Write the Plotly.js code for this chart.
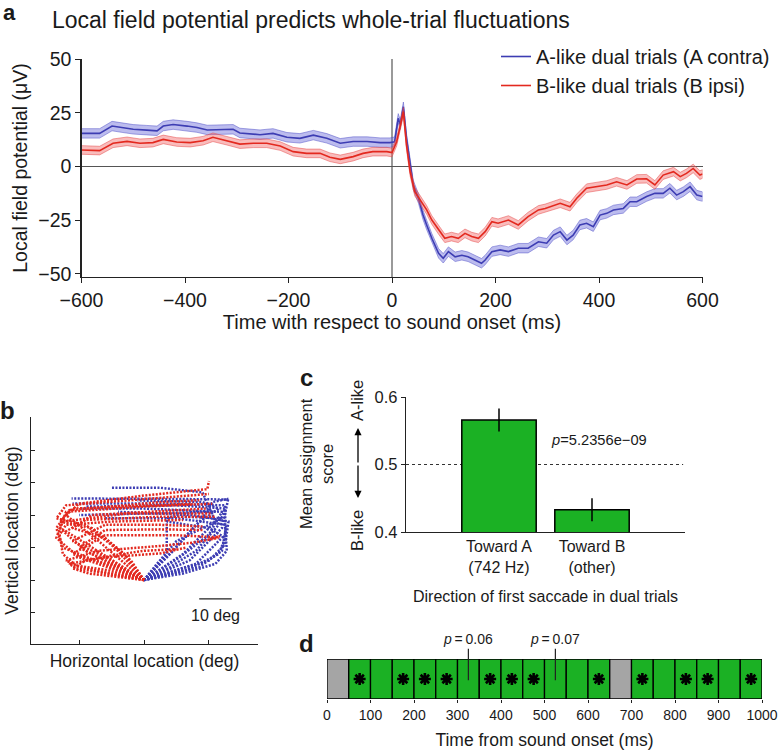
<!DOCTYPE html>
<html>
<head>
<meta charset="utf-8">
<script src="https://cdn.plot.ly/plotly-3.0.1.min.js"></script>
<style>body{margin:0;background:#fff}#fig{width:778px;height:751px}</style>
</head>
<body>
<div id="fig"></div>
<script>
// ---- panel a: LFP traces (uV) ----
var tA = [-600,-565,-541,-520,-500,-474,-454,-442,-423,-396,-377,-357,-327,-307,-294,-274,-255,-230,-203,-178,-152,-126,-100,-75,-48,-23,-4,5,12,16,22,28,35,41,51,60,67,77,90,99,109,122,135,147,160,173,180,193,209,225,244,263,283,299,312,325,338,350,363,376,389,402,415,428,447,460,473,492,508,524,537,550,563,576,589,600];
var lfpA = [15.4,15.4,18.8,18.0,17.3,16.9,16.6,18.8,19.5,18.8,18.1,17.0,17.3,17.3,15.6,15.1,14.8,15.4,13.6,13.1,14.6,13.1,10.8,11.6,11.6,11.1,11.1,11.5,22.4,19.5,27.8,13.1,0.7,-8.6,-14.8,-22.6,-27.2,-33.4,-40.4,-42.7,-39.6,-42.0,-41.3,-42.0,-43.5,-45.0,-43.5,-39.6,-38.8,-39.6,-38.0,-38.0,-35.0,-35.7,-31.9,-30.3,-34.2,-31.9,-27.2,-26.4,-28.0,-22.6,-21.8,-20.2,-19.5,-16.4,-16.4,-14.0,-12.5,-12.5,-10.1,-13.3,-11.7,-9.4,-13.3,-14.0];
var tB = [-600,-565,-539,-512,-487,-462,-442,-416,-390,-365,-346,-319,-294,-268,-242,-216,-191,-165,-139,-120,-100,-75,-56,-37,-10,0,9,15,22,28,35,44,57,67,77,90,102,115,128,141,154,167,180,193,205,225,244,263,283,296,305,325,344,357,376,396,415,434,454,473,492,508,524,544,557,569,582,595,600];
var lfpB = [7.7,7.4,10.8,11.7,10.8,11.1,12.6,11.4,11.1,12.0,13.6,12.0,10.4,10.8,10.8,9.5,6.9,6.1,6.1,4.3,3.3,4.6,6.1,6.9,6.9,6.5,11.5,17.8,25.5,10.0,-2.4,-11.7,-16.4,-20.2,-24.9,-29.5,-33.4,-32.6,-33.4,-31.1,-32.6,-33.4,-30.3,-25.7,-26.4,-24.9,-27.2,-23.3,-20.2,-19.5,-18.7,-17.1,-18.7,-14.8,-10.1,-9.4,-8.6,-7.1,-8.6,-5.8,-5.7,-8.6,-4.0,-2.4,-4.7,-3.2,-0.9,-4.0,-3.5];
var semA = 2.2;
var semB = 2.0;
var nameA = 'A-like dual trials (A contra)';
var nameB = 'B-like dual trials (B ipsi)';

// ---- panel b: eye trajectories (deg), one list per trial ----
var redTrajX = [
  [0,-14,-24,-20,0,19.5,20],
  [0,-18,-26,-24,0,21],
  [0,-20,-27,-25,-5,20.8],
  [0,-16,-24,-18,5,22],
  [0,-12,-22,-12,5,18],
  [0,-10,-20,-12,5,18],
  [0,-8,-22,-12,10,22,23.4,20],
  [0,-20,-24,-14,5,15,23],
  [0,-21,-23,-12,5,13],
  [0,-6,-16,-26,-22,-10,15],
  [0,-11,-21,-25,-26,-24,-10,12],
  [0,-15,-25,-27,-23,5,17],
  [0,-4,-12,-22,-16,10,19],
  [0,-17,-22,-18,-10,0,10],
  [0,-9,-18,-27,-24,-5,20]
];
var redTrajY = [
  [0,12,20,23.5,26,28,30.5],
  [0,9,16,21,22.6,23.5],
  [0,7,13,18,20.5,20.5],
  [0,10,15,18.5,19.5,19.5],
  [0,7,12,17,17,16.5],
  [0,5,10,15.4,15.6,15.4],
  [0,4,8,13.8,13.8,13.2,13.5,12.5],
  [0,4,6,9,10.5,11.5,13],
  [0,3.6,5,7,8.2,10],
  [0,8,16,18,22,22.5,23.5],
  [0,3,4.5,8,14,17,18,18.5],
  [0,6,10,16,21.5,24,24.6],
  [0,6,13,16,20,21.5,22],
  [0,2,3.6,6,7.5,9,9.5],
  [0,10,17,19,23,24.5,26.5]
];
var blueTrajX = [
  [0,12,22,18,5,-10],
  [0,14,24,25.9,5,-22.3],
  [0,16,25,25,0,-22],
  [0,11,20,24,0,-20],
  [0,7,7,15,22,0,-20],
  [0,17,24,25.4,10,-12],
  [0,13,23,25,20,7],
  [0,9,18,21,26],
  [0,6,16,23,18,-2],
  [0,10,20,25,26,15,-8],
  [0,8,16,23,25,10,-18],
  [0,4,10,20,24,12],
  [0,12,22,25.5,25]
];
var blueTrajY = [
  [0,8,18,27,28.4,28.4],
  [0,6,16,24.8,25,25.1],
  [0,5,14,23,23.6,23.6],
  [0,7,14,21,22,22],
  [0,8,19,21,21,20.5,20],
  [0,4,9,17,19,19],
  [0,3,8,13,16,18],
  [0,9,19,24,25],
  [0,6,17,22,24,24.5],
  [0,3,6,11,18,20,21],
  [0,4,9,17,22,23,22.6],
  [0,5,12,17,19,19.5],
  [0,2,5,9,16]
];

// ---- panel c: mean assignment score ----
var dirLabels = ['Toward A<br>(742 Hz)', 'Toward B<br>(other)'];
var meanScore = [0.566, 0.433];
var semScore = [0.017, 0.017];

// ---- panel d: 50 ms bins ----
var binStart = [0,50,100,150,200,250,300,350,400,450,500,550,600,650,700,750,800,850,900,950];
var binStatus = ['excl','sig','ns','sig','sig','sig','ns','sig','sig','sig','ns','ns','sig','excl','sig','ns','sig','sig','ns','sig'];
var binWidth = 50;

var colBlue = '#3d3db3';
var colRed = '#e3291f';
var colGreen = '#1bb124';
var W = 778, H = 751;
function px(x){ return x / W; }
function py(y){ return 1 - y / H; }

function band(t, m, s, fill, edge){
  var up = m.map(function(v){ return v + s; });
  var lo = m.map(function(v){ return v - s; }).reverse();
  return {x: t.concat(t.slice().reverse()), y: up.concat(lo), type: 'scatter', mode: 'lines',
          fill: 'toself', fillcolor: fill, line: {color: edge, width: 0.7},
          hoverinfo: 'skip', showlegend: false, xaxis: 'x', yaxis: 'y'};
}

var data = [
  band(tA, lfpA, semA, 'rgba(95,95,215,0.42)', 'rgba(80,80,200,0.7)'),
  {x: tA, y: lfpA, type: 'scatter', mode: 'lines', name: nameA, line: {color: colBlue, width: 1.6}, xaxis: 'x', yaxis: 'y'},
  band(tB, lfpB, semB, 'rgba(240,95,95,0.42)', 'rgba(230,70,70,0.7)'),
  {x: tB, y: lfpB, type: 'scatter', mode: 'lines', name: nameB, line: {color: colRed, width: 1.6}, xaxis: 'x', yaxis: 'y'}
];

for (var i = 0; i < blueTrajX.length; i++) {
  data.push({x: blueTrajX[i], y: blueTrajY[i], type: 'scatter', mode: 'lines', showlegend: false,
    line: {color: colBlue, width: 2.5, dash: '2px,1.5px'}, xaxis: 'x2', yaxis: 'y2'});
}
for (var j = 0; j < redTrajX.length; j++) {
  data.push({x: redTrajX[j], y: redTrajY[j], type: 'scatter', mode: 'lines', showlegend: false,
    line: {color: colRed, width: 2.5, dash: '2px,1.5px'}, xaxis: 'x2', yaxis: 'y2'});
}

data.push({x: [0, 1], y: meanScore, type: 'bar', width: 0.8, showlegend: false,
  marker: {color: colGreen, line: {color: '#000', width: 1.5}},
  error_y: {type: 'data', array: semScore, color: '#000', thickness: 1.5, width: 0},
  xaxis: 'x3', yaxis: 'y3'});

var binCenter = binStart.map(function(b){ return b + binWidth / 2; });
data.push({x: binCenter, y: binStart.map(function(){ return 1; }), type: 'bar', width: binWidth, showlegend: false,
  marker: {color: binStatus.map(function(s){ return s === 'excl' ? '#a5a5a5' : colGreen; }), line: {color: '#000', width: 1.3}},
  xaxis: 'x4', yaxis: 'y4'});
var sigX = binCenter.filter(function(c, k){ return binStatus[k] === 'sig'; });
data.push({x: sigX, y: sigX.map(function(){ return 0.5; }), type: 'scatter', mode: 'markers', showlegend: false,
  marker: {symbol: 'asterisk-open', size: 10, color: '#000', line: {color: '#000', width: 2.6}},
  xaxis: 'x4', yaxis: 'y4'});

var ax = {showgrid: false, zeroline: false, showline: true, linecolor: '#222', linewidth: 1.2,
          tickcolor: '#222', ticks: 'outside', fixedrange: true};
function axis(o){ return Object.assign({}, ax, o); }
function note(text, x, y, size, extra){
  return Object.assign({text: text, x: px(x), y: py(y), xref: 'paper', yref: 'paper', xanchor: 'center', yanchor: 'middle',
    showarrow: false, font: {size: size}}, extra || {});
}

var layout = {
  width: W, height: H, margin: {l: 0, r: 0, t: 0, b: 0},
  paper_bgcolor: '#fff', plot_bgcolor: 'rgba(0,0,0,0)',
  font: {family: '"Liberation Sans", Arial, sans-serif', color: '#1a1a1a', size: 16},
  showlegend: true,
  legend: {x: px(496), y: py(37), xanchor: 'left', yanchor: 'top', font: {size: 20}, bgcolor: 'rgba(0,0,0,0)', tracegroupgap: 0},
  xaxis: axis({domain: [px(81.5), px(702.5)], range: [-600, 600], anchor: 'y', tickvals: [-600,-400,-200,0,200,400,600],
    ticklen: 5, tickfont: {size: 19.5}, zeroline: true, zerolinecolor: '#9a9a9a', zerolinewidth: 1.6,
    title: {text: 'Time with respect to sound onset (ms)', font: {size: 20}, standoff: 5}}),
  yaxis: axis({domain: [py(277), py(59)], range: [-51.4, 50], anchor: 'x', tickvals: [-50,-25,0,25,50],
    ticklen: 5, tickfont: {size: 19.5}, zeroline: true, zerolinecolor: '#555', zerolinewidth: 1,
    title: {text: 'Local field potential (\u03bcV)', font: {size: 19.5}, standoff: 5}}),
  xaxis2: axis({domain: [px(31), px(258)], range: [-34.8, 35.1], anchor: 'y2', tickvals: [-20, 0, 20],
    ticks: 'inside', ticklen: 4, showticklabels: false,
    title: {text: 'Horizontal location (deg)', font: {size: 17.5}, standoff: 10}}),
  yaxis2: axis({domain: [py(644), py(417)], range: [-19.7, 50.2], anchor: 'x2', tickvals: [-10,0,10,20,30,40],
    ticks: 'inside', ticklen: 4, showticklabels: false,
    title: {text: 'Vertical location (deg)', font: {size: 17.5}, standoff: 6}}),
  xaxis3: axis({domain: [px(406), px(685)], range: [-1, 2], anchor: 'y3', tickvals: [0, 1], ticktext: dirLabels,
    ticks: '', tickfont: {size: 16},
    title: {text: 'Direction of first saccade in dual trials', font: {size: 16}, standoff: 15}}),
  yaxis3: axis({domain: [py(532), py(397)], range: [0.4, 0.6], anchor: 'x3', tickvals: [0.4, 0.5, 0.6],
    ticklen: 4, tickfont: {size: 16.5}}),
  xaxis4: axis({domain: [px(327), px(762)], range: [0, 1000], anchor: 'y4', tickvals: [0,100,200,300,400,500,600,700,800,900,1000],
    showline: false, ticklen: 3, tickfont: {size: 14},
    title: {text: 'Time from sound onset (ms)', font: {size: 17.5}, standoff: 11}}),
  yaxis4: {domain: [py(699), py(659)], range: [0, 1], anchor: 'x4', visible: false, fixedrange: true},
  shapes: [
    {type: 'line', xref: 'x3', yref: 'y3', x0: -1, x1: 1.98, y0: 0.5, y1: 0.5, line: {color: '#333', width: 1.2, dash: 'dot'}, layer: 'below'},
    {type: 'line', xref: 'x2', yref: 'y2', x0: 17, x1: 27, y0: -5.8, y1: -5.8, line: {color: '#222', width: 1.4}}
  ],
  annotations: [
    note('<b>a</b>', 9, 13, 22),
    note('<b>b</b>', 8, 410, 24),
    note('<b>c</b>', 306, 377, 24),
    note('<b>d</b>', 306, 643, 24),
    note('Local field potential predicts whole-trial fluctuations', 50, 20, 23, {xanchor: 'left'}),
    {text: '10 deg', x: 22, y: -10.8, xref: 'x2', yref: 'y2', xanchor: 'center', yanchor: 'middle', showarrow: false, font: {size: 16}},
    note('Mean assignment<br>score', 317, 464, 16.5, {textangle: -90}),
    note('A-like', 357, 401, 16.5, {textangle: -90}),
    note('B-like', 357, 531, 16.5, {textangle: -90}),
    {text: '', x: px(358), y: py(428), xref: 'paper', yref: 'paper', ax: 0, ay: 36, showarrow: true, arrowhead: 2, arrowsize: 1.1, arrowwidth: 1.3, arrowcolor: '#000'},
    {text: '', x: px(358), y: py(498), xref: 'paper', yref: 'paper', ax: 0, ay: -34, showarrow: true, arrowhead: 2, arrowsize: 1.1, arrowwidth: 1.3, arrowcolor: '#000'},
    note('<i>p</i>=5.2356e\u221209', 599, 440, 14.7),
    {text: '<i>p</i>\u2009=\u20090.06', x: 325, y: 0.47, xref: 'x4', yref: 'y4', xanchor: 'center', yanchor: 'middle', ax: 0, ay: -41, showarrow: true, arrowhead: 0, arrowwidth: 1.2, arrowcolor: '#222', standoff: 0, font: {size: 14}},
    {text: '<i>p</i>\u2009=\u20090.07', x: 525, y: 0.47, xref: 'x4', yref: 'y4', xanchor: 'center', yanchor: 'middle', ax: 0, ay: -41, showarrow: true, arrowhead: 0, arrowwidth: 1.2, arrowcolor: '#222', standoff: 0, font: {size: 14}}
  ]
};

Plotly.newPlot('fig', data, layout, {displayModeBar: false, staticPlot: true});
</script>
</body>
</html>
